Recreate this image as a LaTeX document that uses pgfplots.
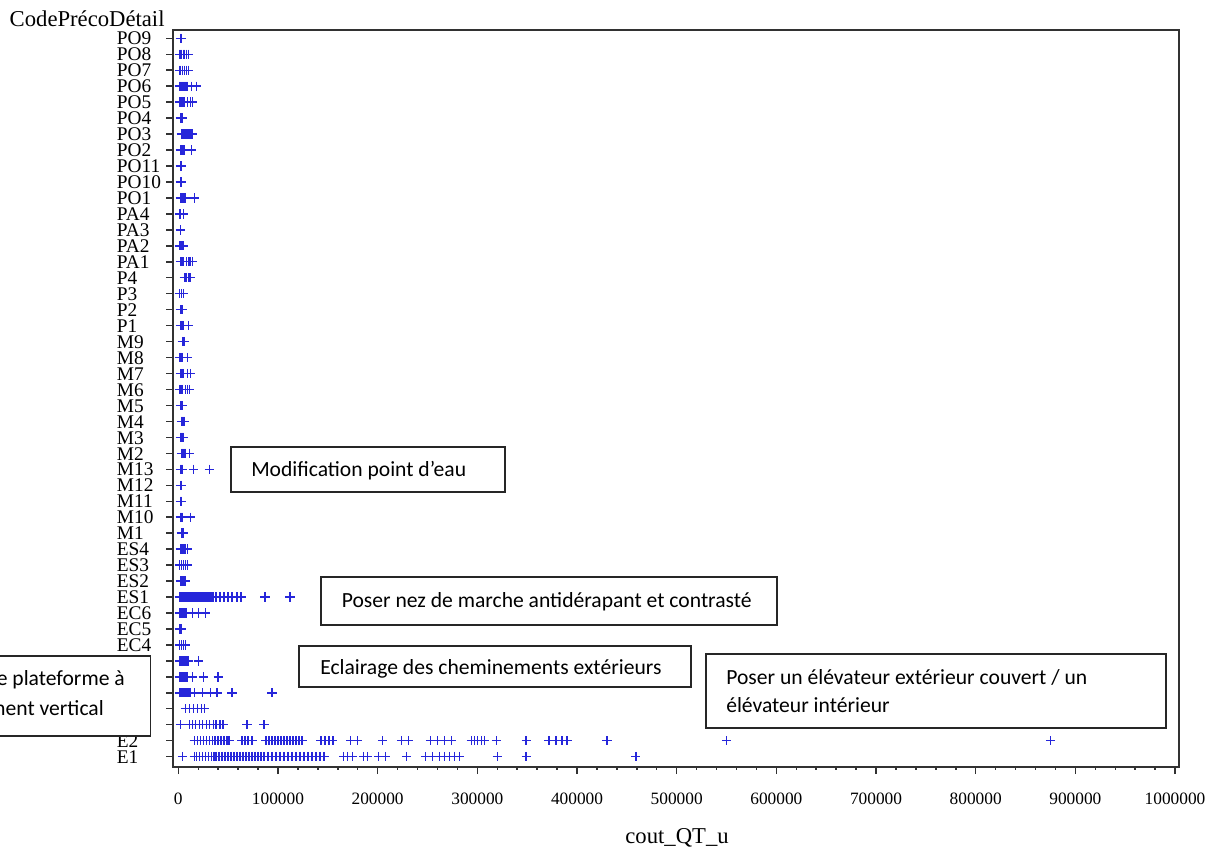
\documentclass[border=0pt]{standalone}
\usepackage{fontspec}
\setmainfont{Liberation Serif}
\newfontfamily\calibri{Carlito}
\usepackage{pgfplots}
\pgfplotsset{compat=1.18}
\definecolor{markblue}{RGB}{38,38,218}
\definecolor{framegray}{RGB}{50,50,50}
\begin{document}
\begin{tikzpicture}
\begin{axis}[
  scale only axis, width=754.5pt, height=552.5pt,
  at={(0,0)}, anchor=south west,
  xmin=-5000, xmax=1004300, ymin=-0.627, ymax=45.52,
  axis line style={framegray, line width=1.3pt},
  tick style={framegray, line width=1.1pt},
  tick align=outside,
  xtick={0,100000,200000,300000,400000,500000,600000,700000,800000,900000,1000000},
  minor x tick num=4,
  xtick pos=bottom, ytick pos=left,
  major tick length=5.5pt, minor tick length=2.2pt,
  scaled x ticks=false,
  xticklabel style={font=\fontsize{13}{13}\selectfont, anchor=base, yshift=-23pt},
  /pgf/number format/fixed, /pgf/number format/1000 sep={}, /pgf/number format/assume math mode=true,
  ytick={0,...,45},
  yticklabels={E1,E2,,,,,,EC4,EC5,EC6,ES1,ES2,ES3,ES4,M1,M10,M11,M12,M13,M2,M3,M4,M5,M6,M7,M8,M9,P1,P2,P3,P4,PA1,PA2,PA3,PA4,PO1,PO10,PO11,PO2,PO3,PO4,PO5,PO6,PO7,PO8,PO9},
  yticklabel style={font=\fontsize{14.5}{14.5}\selectfont, anchor=base west, inner sep=0pt, xshift=-37pt, yshift=-5pt},
  xlabel={cout\_QT\_u},
  ylabel={CodePrécoDétail},
  every axis x label/.style={at={(axis description cs:0.5007,0)}, anchor=base, yshift=-58pt, font=\fontsize{17}{17}\selectfont},
  every axis y label/.style={at={(axis description cs:-0.1673,1.0054)}, anchor=base west, font=\fontsize{17}{17}\selectfont},
]
\addplot[markblue, only marks, mark=+, mark size=3.5pt, line width=1.05pt] coordinates {
(2000,45) (3000,45)
(1000,44) (2000,44) (3000,44) (5000,44) (6000,44) (8000,44) (10000,44)
(1000,43) (2000,43) (4000,43) (6000,43) (8000,43) (10000,43)
(1000,42) (2000,42) (3000,42) (4000,42) (5000,42) (6000,42) (7000,42) (8000,42) (9000,42) (13000,42) (18000,42)
(1000,41) (2000,41) (3000,41) (4000,41) (5000,41) (6000,41) (9000,41) (12000,41) (14000,41)
(2000,40) (3000,40) (4000,40)
(3000,39) (4000,39) (5000,39) (6000,39) (7000,39) (8000,39) (9000,39) (10000,39) (11000,39) (12000,39) (13000,39) (14000,39)
(2000,38) (3000,38) (4000,38) (5000,38) (6000,38) (13000,38)
(2000,37) (3000,37)
(2000,36) (3000,36)
(2000,35) (3000,35) (4000,35) (5000,35) (6000,35) (7000,35) (16000,35)
(1000,34) (2000,34) (5000,34)
(2000,33)
(1000,32) (2000,32) (3000,32) (4000,32) (5000,32)
(2000,31) (3000,31) (4000,31) (5000,31) (8000,31) (10000,31) (11000,31) (12000,31) (14000,31)
(6000,30) (7000,30) (8000,30) (10000,30) (11000,30) (12000,30)
(1000,29) (3000,29) (5000,29)
(2000,28) (3000,28) (4000,28)
(2000,27) (3000,27) (4000,27) (5000,27) (10000,27)
(4000,26) (5000,26) (6000,26)
(1000,25) (2000,25) (3000,25) (4000,25) (9000,25)
(2000,24) (3000,24) (4000,24) (5000,24) (9000,24) (12000,24)
(1000,23) (2000,23) (3000,23) (4000,23) (7000,23) (9000,23) (11000,23)
(2000,22) (3000,22) (4000,22)
(3000,21) (4000,21) (5000,21) (6000,21)
(2000,20) (3000,20) (4000,20) (5000,20)
(3000,19) (4000,19) (5000,19) (6000,19) (7000,19) (11000,19)
(2000,18) (3000,18) (4000,18) (15000,18) (31000,18)
(2000,17) (3000,17)
(2000,16) (3000,16)
(2000,15) (3000,15) (4000,15) (12000,15)
(3000,14) (4000,14) (5000,14)
(2000,13) (3000,13) (4000,13) (5000,13) (6000,13) (7000,13) (9000,13)
(1000,12) (3000,12) (5000,12) (7000,12) (9000,12)
(2000,11) (3000,11) (4000,11) (5000,11) (6000,11) (7000,11)
(1000,10) (2000,10) (3000,10) (4000,10) (5000,10) (6000,10) (7000,10) (8000,10) (9000,10) (10000,10)
(11000,10) (12000,10) (13000,10) (14000,10) (15000,10) (16000,10) (17000,10) (18000,10) (19000,10) (20000,10)
(21000,10) (22000,10) (23000,10) (24000,10) (25000,10) (26000,10) (27000,10) (28000,10) (29000,10) (30000,10)
(31000,10) (32000,10) (33000,10) (34000,10) (35000,10) (38000,10) (42000,10) (46000,10) (50000,10) (54000,10)
(59000,10) (63000,10) (87000,10) (112000,10)
(1000,9) (2000,9) (3000,9) (4000,9) (5000,9) (6000,9) (7000,9) (8000,9) (14000,9) (20000,9) (27000,9)
(1000,8) (2000,8) (3000,8)
(1000,7) (3000,7) (5000,7) (7000,7)
(1000,6) (2000,6) (3000,6) (4000,6) (5000,6) (6000,6) (7000,6) (8000,6) (9000,6) (10000,6) (20000,6)
(1000,5) (2000,5) (3000,5) (4000,5) (5000,5) (6000,5) (7000,5) (8000,5) (9000,5) (14000,5) (25000,5) (40000,5)
(1000,4) (2000,4) (3000,4) (4000,4) (5000,4) (6000,4) (7000,4) (8000,4) (9000,4) (10000,4) (11000,4) (12000,4)
(16000,4) (24000,4) (32000,4) (39000,4) (54000,4) (94000,4)
(7000,3) (11000,3) (15000,3) (19000,3) (23000,3) (26000,3)
(2000,2) (11000,2) (14000,2) (17000,2) (21000,2) (24000,2) (28000,2) (31000,2) (35000,2) (38000,2) (42000,2)
(45000,2) (69000,2) (86000,2)
(16000,1) (19000,1) (22000,1) (25000,1) (28000,1) (31000,1) (34000,1) (37000,1) (40000,1) (43000,1) (46000,1)
(49000,1) (51000,1) (64000,1) (67000,1) (70000,1) (74000,1) (88000,1) (91000,1) (94000,1) (97000,1) (100000,1)
(103000,1) (106000,1) (109000,1) (112000,1) (115000,1) (118000,1) (121000,1) (124000,1) (143000,1) (147000,1)
(151000,1) (155000,1) (173000,1) (180000,1) (205000,1) (224000,1) (231000,1) (253000,1) (260000,1) (267000,1)
(274000,1) (294000,1) (297000,1) (300000,1) (304000,1) (307000,1) (319000,1) (349000,1) (372000,1) (379000,1)
(385000,1) (390000,1) (430000,1) (550000,1) (875000,1)
(4000,0) (16000,0) (18000,0) (21000,0) (24000,0) (27000,0) (30000,0) (33000,0) (36000,0) (38000,0) (41000,0)
(44000,0) (47000,0) (50000,0) (53000,0) (56000,0) (59000,0) (62000,0) (65000,0) (68000,0) (71000,0) (74000,0)
(77000,0) (80000,0) (83000,0) (86000,0) (90000,0) (94000,0) (98000,0) (102000,0) (106000,0) (110000,0) (114000,0)
(118000,0) (122000,0) (126000,0) (130000,0) (134000,0) (138000,0) (142000,0) (146000,0) (166000,0) (170000,0)
(175000,0) (186000,0) (190000,0) (201000,0) (208000,0) (229000,0) (248000,0) (255000,0) (262000,0) (267000,0)
(272000,0) (277000,0) (282000,0) (320000,0) (349000,0) (459000,0)
};
\end{axis}
\begin{scope}[x=0.75pt, y=-0.75pt, shift={(-130pt,575pt)}, every node/.style={inner sep=0pt, font=\calibri\fontsize{16.2}{20}\selectfont}]
\draw[black!85, line width=0.9pt, fill=white] (231,447) rectangle (505,492);
\node[anchor=base west] at (251,476.7) {Modification point d’eau};
\draw[black!85, line width=0.9pt, fill=white] (321,577) rectangle (777,625);
\node[anchor=base west] at (341.5,607.7) {Poser nez de marche antidérapant et contrasté};
\draw[black!85, line width=0.9pt, fill=white] (299,646) rectangle (691,687);
\node[anchor=base west] at (320,675) {Eclairage des cheminements extérieurs};
\draw[black!85, line width=0.9pt, fill=white] (706,654) rectangle (1166,728);
\node[anchor=base west] at (726,685) {Poser un élévateur extérieur couvert / un};
\node[anchor=base west] at (726,713) {élévateur intérieur};
\fill[white] (0,656) rectangle (150.7,736);
\draw[black!85, line width=0.9pt] (0,656) -- (150.7,656) -- (150.7,736) -- (0,736);
\node[anchor=base east] at (125,686) {e plateforme à};
\node[anchor=base east] at (104,716) {ment vertical};
\pgfresetboundingbox
\path[use as bounding box] (0,0) rectangle (1216,852);
\end{scope}
\end{tikzpicture}
\end{document}
